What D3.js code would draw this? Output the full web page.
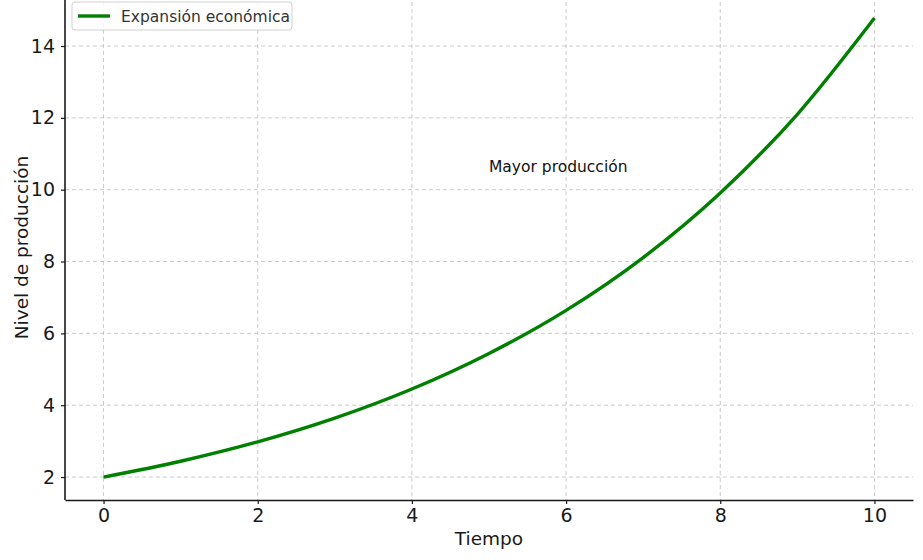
<!DOCTYPE html>
<html>
<head>
<meta charset="utf-8">
<script src="https://cdn.jsdelivr.net/npm/d3@7"></script>
<style>
  body { margin: 0; background: white; }
  svg { font-family: "DejaVu Sans", sans-serif; }
  .gridline { stroke: #b0b0b0; stroke-dasharray: 4,3; stroke-width: 0.8; opacity: 0.8; }
</style>
</head>
<body>
<div id="chart"></div>
<script>
// values
var tiempo = [0, 1, 2, 3, 4, 5, 6, 7, 8, 9, 10];
var produccion = [2.0, 2.44, 2.98, 3.64, 4.45, 5.44, 6.64, 8.11, 9.91, 12.10, 14.78];
var xTicks = [0, 2, 4, 6, 8, 10];
var yTicks = [2, 4, 6, 8, 10, 12, 14];
var serieNombre = "Expansión económica";
var nota = { x: 5, y: 10.5, texto: "Mayor producción" };

var datos = tiempo.map(function (t, i) { return { t: t, v: produccion[i] }; });

var W = 923, H = 560;
var margin = { left: 65, right: 10, top: -5, bottom: 60 };
var width = W - margin.left - margin.right;
var height = H - margin.top - margin.bottom;

var svg = d3.select("#chart").append("svg")
  .attr("width", W)
  .attr("height", H)
  .append("g")
  .attr("transform", "translate(" + margin.left + "," + margin.top + ")");

var xscale = d3.scaleLinear().domain([-0.5, 10.5]).range([0, width]);
var yscale = d3.scaleLinear().domain([1.361, 15.42]).range([height, 0]);

// grids
svg.append("g").selectAll("line")
  .data(xTicks).enter().append("line")
  .attr("class", "gridline")
  .attr("x1", d => xscale(d)).attr("x2", d => xscale(d))
  .attr("y1", 0).attr("y2", height);

svg.append("g").selectAll("line")
  .data(yTicks).enter().append("line")
  .attr("class", "gridline")
  .attr("x1", 0).attr("x2", width)
  .attr("y1", d => yscale(d)).attr("y2", d => yscale(d));

// axes
var xAxis = svg.append("g")
  .attr("transform", "translate(0," + height + ")")
  .call(d3.axisBottom(xscale).tickValues(xTicks).tickSize(4).tickPadding(5).tickSizeOuter(0));
var yAxis = svg.append("g")
  .call(d3.axisLeft(yscale).tickValues(yTicks).tickSize(4).tickPadding(6).tickSizeOuter(0));

[xAxis, yAxis].forEach(function (a) {
  a.selectAll("text").style("font-size", "19px").attr("fill", "#1a1a1a")
    .style("font-family", "DejaVu Sans");
  a.select(".domain").attr("stroke", "#1a1a1a").attr("stroke-width", 1.6);
  a.selectAll(".tick line").attr("stroke", "#1a1a1a").attr("stroke-width", 1.2);
});
yAxis.select(".domain").attr("d", "M0," + height + "V" + (-margin.top - 5));

// line
var linea = d3.line()
  .x(d => xscale(d.t))
  .y(d => yscale(d.v))
  .curve(d3.curveMonotoneX);

svg.append("path")
  .datum(datos)
  .attr("fill", "none")
  .attr("stroke", "#008000")
  .attr("stroke-width", 3.4)
  .attr("d", linea);

// annotation
svg.append("text")
  .attr("x", xscale(nota.x))
  .attr("y", yscale(nota.y))
  .style("font-size", "15.5px")
  .attr("fill", "#111")
  .text(nota.texto);

// axis labels
svg.append("text")
  .attr("x", width / 2)
  .attr("y", height + 45)
  .attr("text-anchor", "middle")
  .style("font-size", "18.5px")
  .attr("fill", "#1a1a1a")
  .text("Tiempo");

svg.append("text")
  .attr("transform", "translate(-37," + (height / 2) + ")rotate(-90)")
  .attr("text-anchor", "middle")
  .style("font-size", "18.5px")
  .attr("fill", "#1a1a1a")
  .text("Nivel de producción");

// legend
var leg = svg.append("g").attr("transform", "translate(7," + (-margin.top + 2) + ")");
leg.append("rect")
  .attr("width", 220).attr("height", 28).attr("rx", 3)
  .attr("fill", "white").attr("fill-opacity", 0.8)
  .attr("stroke", "#d0d0d0");
leg.append("line")
  .attr("x1", 6).attr("x2", 38).attr("y1", 14).attr("y2", 14)
  .attr("stroke", "#008000").attr("stroke-width", 3.4);
leg.append("text")
  .attr("x", 49).attr("y", 20)
  .style("font-size", "15.5px")
  .attr("fill", "#333")
  .text(serieNombre);
</script>
</body>
</html>
